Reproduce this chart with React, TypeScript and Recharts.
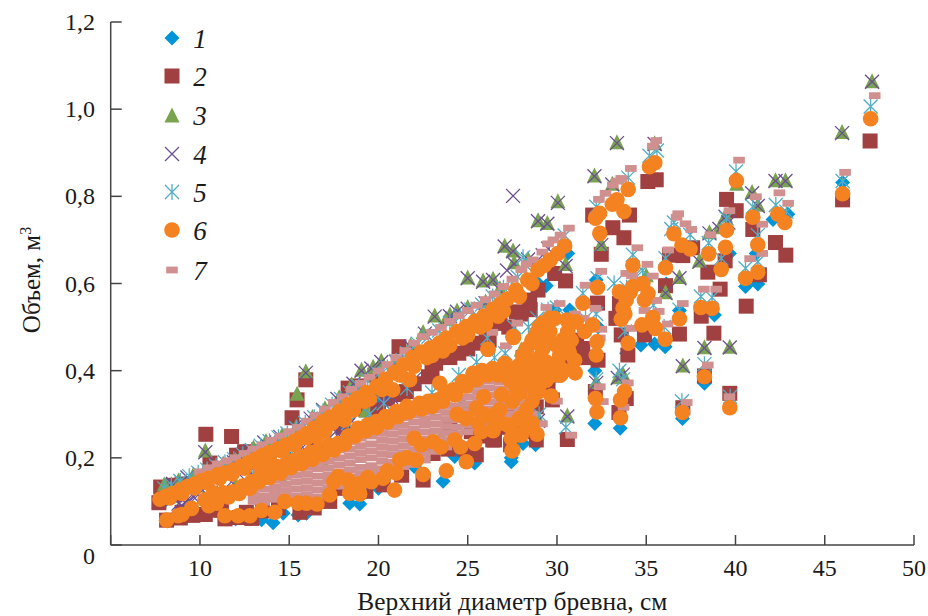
import React from "react";
import { ScatterChart, Scatter, XAxis, YAxis, Label } from "recharts";

type P = [number, number];

const xTicks = [5, 10, 15, 20, 25, 30, 35, 40, 45, 50];
const yTicks = [0, 0.2, 0.4, 0.6, 0.8, 1.0, 1.2];
const legendLabels = ["1", "2", "3", "4", "5", "6", "7"];

const series1: P[] = [[46,.832],[42.1,.747],[42.93,.759],[41.25,.599],[40.56,.593],[41.16,.669],[39.66,.669],[38.82,.528],[38.26,.371],[36.12,.599],[36.86,.538],[36.06,.455],[35.47,.461],[34.7,.459],[32.12,.4],[32.12,.279],[33.54,.268],[32.2,.608],[28.94,.6],[29.4,.595],[30.6,.669],[28.8,.23],[28.1,.233],[27.44,.2],[30.71,.539],[29.87,.539],[23.62,.146],[24.27,.203],[25.39,.188],[27.44,.191],[18.39,.096],[18.95,.094],[15.5,.069],[15.97,.073],[13.45,.058],[14.1,.051],[14.66,.073],[38.2,.53],[37.03,.29],[33.9,.44],[32.3,.5],[26.5,.25],[25,.2],[22,.18],[20,.13],[12,.06],[10,.07],[8.2,.055],[8,.1],[10,.14],[15,.2],[20,.34],[25,.48]];

const series2: P[] = [[47.54,.927],[46,.792],[39.5,.793],[40.04,.767],[40.97,.724],[42.24,.694],[42.82,.665],[35.09,.834],[35.56,.838],[32,.757],[33.13,.728],[34.06,.757],[33.75,.705],[32.48,.667],[36.3,.665],[37.05,.664],[37.6,.682],[38.45,.626],[39.42,.652],[39.14,.587],[41.34,.62],[40.6,.548],[36.08,.595],[38.08,.525],[38.79,.486],[36.86,.484],[33.97,.436],[32.27,.555],[39.68,.348],[38.26,.388],[37.05,.315],[30.58,.242],[32.15,.352],[33.88,.336],[33.47,.304],[30.48,.606],[29.87,.623],[28.47,.562],[28.94,.585],[27.72,.535],[26.79,.509],[26.04,.49],[33.5,.554],[33.6,.482],[34.9,.482],[32.3,.424],[29.74,.333],[28.84,.317],[26.5,.241],[28.84,.241],[31.45,.451],[29.9,.39],[30.2,.45],[31.1,.47],[28.1,.43],[33.3,.52],[35.3,.5],[27.5,.27],[27.2,.31],[27.8,.36],
[10.33,.254],[11.77,.249],[15.16,.292],[15.44,.333],[15.93,.379],[21.15,.455],[7.8,.133],[7.7,.097],[8.4,.137],[9,.14],[8.13,.057],[8.9,.062],[9.6,.068],[10.3,.07],[11.4,.06],[12.2,.063],[12.9,.061],[10.56,.188],[12.05,.206],[12.5,.214],[23.2,.417],[25.7,.463],[26.8,.509],[24.5,.44],[22.8,.386],[21.56,.352],[18.3,.36],[18.8,.365],[19.8,.39],[22.5,.149],[25.48,.207],[26.4,.241],[23.06,.21],[17.27,.1],[14.4,.085],[20.26,.138],[19.3,.123],[17.8,.13],[15.6,.075],[24,.27],[25.2,.26],[27.4,.23],[28.1,.26],[20,.31],[16.5,.22],[18,.27],[14,.18],
[19.3,.31],[20.5,.335],[21,.345],[22,.37],[23,.4],[24,.43],[25,.45],[26.2,.47],[27.3,.5],[28,.53],[28.5,.54],[9,.075],[11.2,.08],[12.6,.075],[13.5,.078],[16.4,.085],[18.8,.125],[21.3,.16],[23.9,.22],[24.8,.22],[26,.25],[27,.27],[28.6,.29],[29.5,.36],[30.5,.41],[31,.43],[31.7,.43],[29.3,.47],[10.8,.08],[8.6,.115]];

const series3: P[] = [[47.65,1.065],[45.97,.949],[33.36,.925],[35.47,.923],[32.1,.849],[33.1,.83],[30.05,.79],[28.94,.746],[29.46,.74],[27.07,.688],[27.54,.677],[28.38,.658],[27.6,.65],[30.48,.646],[42.24,.838],[42.8,.838],[40.93,.811],[41.25,.782],[40.07,.83],[39.44,.757],[38.54,.719],[36.86,.616],[37.98,.654],[36.08,.581],[32.48,.692],[38.26,.455],[39.68,.456],[37.05,.413],[30.58,.298],[33.69,.394],[33.41,.386],[32.2,.375],[28.94,.29],[25.86,.608],[26.42,.612],[25,.615],[35,.62],[34.3,.6],[39.1,.73],
[10.3,.218],[15.93,.4],[15.44,.348],[19.05,.403],[20.16,.424],[23.15,.528],[23.8,.52],[24.4,.539],[25,.547],[8,.14],[8.8,.15],[9.6,.16],[10.4,.172],[11.3,.188],[12,.197],[13,.225],[13.7,.24],[14.6,.253],[15.4,.273],[16.3,.295],[17,.315],[17.8,.34],[18.5,.37],[19.7,.41],[21,.425],[21.8,.46],[22.5,.49],[24,.53],[26,.56],[26.8,.59],[10.2,.11],[12,.14],[14.5,.16],[16.8,.2],[19.3,.31],[23.5,.25],[24.7,.33],[28,.45],[31,.53]];

const series4: P[] = [[27.54,.801],[47.65,1.063],[45.97,.945],[33.36,.922],[35.47,.92],[32.1,.846],[33.1,.827],[30.05,.785],[28.94,.743],[29.46,.737],[27.07,.685],[27.54,.674],[28.38,.655],[27.6,.645],[27.2,.63],[30.48,.64],[42.24,.835],[42.8,.835],[40.93,.807],[41.25,.778],[39.44,.753],[38.54,.715],[36.86,.612],[37.98,.65],[36.08,.578],[32.48,.688],[38.26,.452],[39.68,.453],[37.05,.41],[30.58,.295],[33.69,.391],[33.41,.383],[32.2,.372],[28.94,.285],[25.86,.604],[26.42,.608],[25,.612],[29.5,.68],[29.2,.665],[39.1,.725],[39.6,.74],
[10.3,.213],[15.93,.395],[19.05,.4],[20.16,.42],[23.15,.524],[24.4,.535],[25,.542],[8.5,.14],[9.3,.155],[10,.162],[11,.18],[11.9,.19],[12.8,.215],[13.6,.235],[14.5,.248],[15.3,.27],[16.2,.29],[16.9,.31],[17.7,.335],[18.6,.37],[19.6,.405],[21,.42],[21.8,.455],[22.6,.485],[24,.525],[26,.555],[26.8,.585],[9,.09],[10.4,.115],[12,.135],[14.2,.175],[15.8,.215],[17,.25],[18.5,.285],[19.5,.3],[20.5,.335],[22,.38],
[8.8,.095],[9.15,.098],[9.4,.103],[9.65,.11],[9.9,.115],[10.6,.12],[11,.128],[11.4,.13],[12.5,.15],[13,.16],[13.2,.163],[15.5,.22],[15.75,.224],[16.1,.23],[17.6,.26],[18,.265],[18.3,.275],[20.2,.33],[20.7,.34]];

const series5: P[] = [[47.57,1.006],[46,.835],[40.03,.857],[42.26,.78],[42.85,.765],[40.97,.776],[41.25,.711],[41.25,.65],[40.56,.635],[39.5,.749],[39.2,.658],[38.5,.693],[36.55,.74],[36.4,.725],[37.46,.712],[36.08,.658],[38.06,.57],[38.69,.568],[36.86,.54],[35.18,.893],[35.6,.905],[33.99,.843],[32.2,.776],[34.25,.666],[32.27,.612],[31.45,.578],[30.43,.71],[28.3,.64],[28.1,.66],[27.8,.615],[33.2,.6],[33.9,.59],[34.4,.62],[35,.6],[34.8,.63],[35.4,.55],[33.8,.49],[36,.5],[32.2,.53],[31.6,.52],[29.5,.54],[30,.545],[27.6,.5],[26.1,.475],[27.1,.44],[28.9,.52],[28.4,.5],[29,.3],[30.5,.27],[33.5,.4],[33.7,.38],[32.2,.38],[38.26,.415],[37,.33],[39.7,.34],
[8,.13],[8.4,.138],[8.9,.147],[9.4,.158],[9.9,.166],[10.4,.173],[10.9,.182],[11.4,.19],[11.9,.197],[12.4,.208],[12.9,.218],[13.4,.228],[13.9,.238],[14.4,.247],[14.9,.256],[15.4,.268],[15.9,.28],[16.4,.293],[16.9,.307],[17.4,.322],[17.9,.335],[18.4,.35],[18.9,.364],[19.4,.378],[20,.392],[20.5,.407],[21,.422],[21.6,.44],[22.2,.462],[22.8,.478],[23.4,.492],[24,.51],[24.6,.525],[25.2,.54],[25.8,.552],[26.4,.57],[27,.59],[19.5,.3],[20.3,.325],[21.6,.36],[23,.35],[24.5,.39],[25.5,.42],[26.5,.43],[13,.165],[15,.205],[17,.25],[18.3,.28]];

const series6: P[] = [[7.76,.105],[8.1,.112],[8.5,.118],[8.9,.126],[9.3,.134],[9.7,.14],[10.1,.148],[10.5,.153],[11,.161],[11.4,.165],[11.9,.172],[12.3,.18],[12.7,.188],[13.1,.196],[13.5,.205],[13.9,.212],[14.4,.221],[14.8,.229],[15.2,.236],[15.6,.245],[16,.256],[16.4,.268],[16.9,.283],[17.3,.293],[17.8,.306],[18.3,.322],[18.8,.336],[19.3,.35],[19.9,.364],[20.4,.38],[20.9,.396],[21.4,.413],[21.9,.43],[22.4,.443],[22.9,.452],[23.4,.463],[23.8,.475],[24.4,.49],[24.9,.501],[25.4,.513],[25.9,.525],[26.4,.54],[26.8,.552],[27.2,.564],[27.7,.585],[28.36,.608],[28.93,.631],[29.3,.642],[29.62,.654],[30.05,.669],[30.43,.686],
[18.1,.287],[20.8,.356],[21.75,.379],[19.5,.335],[22.7,.43],[23.6,.445],[24.7,.475],[25.7,.5],[26.7,.525],[16.5,.25],[17,.262],
[8.3,.108],[9,.118],[9.7,.131],[10.4,.143],[11.1,.153],[11.8,.163],[12.5,.176],[13.2,.188],[13.9,.203],[14.6,.216],[15.3,.23],[16,.246],[16.7,.265],[17.4,.28],[18.6,.31],[19.2,.33],[20.2,.357],[21.2,.39],[22,.41],[23,.435],[24,.458],[25,.482],[26,.507],[27,.537],[27.9,.57],[28.6,.6],
[8.13,.057],[8.78,.067],[9.53,.084],[10.28,.103],[10.74,.119],[11.3,.12],[11.86,.122],[12.4,.135],[12.89,.145],[13.4,.16],[13.82,.172],[14.3,.18],[14.85,.187],[15.3,.195],[15.78,.203],[16.2,.212],[16.71,.222],[17.2,.23],[17.74,.233],[18.3,.25],[18.86,.268],[19.4,.276],[19.89,.283],[20.4,.295],[21,.306],[21.6,.318],[22.3,.325],[22.8,.33],[23.34,.333],[23.7,.345],[24.18,.356],[24.7,.375],[25.3,.394],[25.8,.4],[26.4,.405],[27,.403],[27.53,.398],[28.1,.39],[28.6,.37],
[11,.105],[11.6,.11],[12.2,.118],[12.8,.13],[13.3,.145],[13.9,.155],[14.5,.165],[15.1,.178],[15.7,.187],[16.3,.197],[16.9,.208],[17.5,.218],[18.1,.232],[18.7,.25],[19.3,.262],[19.9,.27],[20.5,.282],[21.1,.295],[21.7,.305],[22.4,.312],[23,.318],[23.6,.33],[24.3,.345],[24.9,.365],[25.5,.38],[26.1,.39],[26.7,.39],[27.3,.385],[27.9,.375],
[9,.07],[10.5,.09],[11.4,.067],[12.14,.067],[12.8,.067],[13.45,.079],[14.19,.075],[14.75,.1],[15.5,.096],[15.97,.096],[16.56,.094],[17.27,.115],[17.74,.157],[18.3,.149],[18.39,.119],[18.95,.117],[19.6,.145],[20.26,.153],[21,.165],[20.9,.126],[22.12,.195],[22.5,.162],[23.8,.17],[23.06,.237],[24.27,.241],[24.92,.191],[25.39,.233],[26.4,.264],[25.48,.314],[26.13,.449],[23.43,.371],[27.53,.478],[27.53,.218],[27.25,.275],[26.6,.302],[10.93,.096],[21.19,.195],[21.6,.2],[22.4,.23],[20.5,.17],[22,.245],[17.5,.145],[18.9,.14],[19.4,.155],[23.5,.225],[24.6,.225],
[47.57,.978],[46,.806],[40.05,.836],[42.37,.759],[42.76,.74],[40.97,.752],[41.25,.689],[41.25,.626],[40.56,.612],[39.5,.722],[39.44,.683],[39.2,.632],[38.5,.668],[36.55,.714],[37,.688],[37.46,.679],[36.08,.636],[38.06,.545],[38.69,.543],[36.86,.519],[36.06,.472],[38.26,.386],[37.03,.304],[39.68,.315],[35.48,.877],[35.18,.868],[33.99,.816],[33.36,.792],[33.1,.782],[33.75,.765],[32.39,.761],[32.16,.75],[32.4,.715],[34.25,.642],[32.27,.591],[31.45,.555],
[34.81,.6],[34.25,.593],[33.5,.581],[35.1,.577],[34.9,.562],[33.88,.562],[33.7,.543],[33.6,.518],[34.76,.505],[35.37,.522],[35.52,.497],[33.99,.463],[34.1,.58],[33.8,.53],
[32.24,.466],[32.2,.436],[32,.505],[31.55,.49],[31.08,.512],[30.56,.516],[29.87,.52],[29.18,.509],[28.84,.486],[28.94,.463],[30.52,.478],[30.61,.451],[30.15,.436],[30.05,.42],[30.99,.424],[31.02,.395],[29.68,.342],[28.99,.352],[29.4,.378],[28.93,.417],[28.1,.436],[27.57,.476],[26.14,.449],[27.07,.417],[27.35,.378],[27.9,.348],[28.28,.31],[27.44,.275],[28,.252],[28.88,.254],[27.48,.216],[27.44,.245],[26.42,.262],[25.76,.26],[26.79,.31],[32.16,.336],[32.24,.305],[33.79,.352],[33.56,.333],[33.56,.292],[29.6,.49],[29.2,.45],[28.6,.4],[29.7,.41],[28.6,.33],[29,.37],[30.6,.49],[26.9,.345],[25.9,.34],[24.9,.29],[25.6,.28],[24.4,.3],
[28.3,.45],[28.6,.47],[29,.43],[29.4,.42],[29.9,.46],[30.3,.47],[30.8,.47],[29.3,.48],[29.8,.39],[30.2,.39],[28.5,.42],[27.8,.41],[28.2,.38],[28.9,.39],[28.7,.36],[27.5,.33],[27.7,.36],[28.6,.28],[28.3,.27],[27.9,.29],[26.9,.28],[26.4,.29],[25.9,.3],[29.4,.4],[30.4,.4],[30.7,.44],[29,.5],[29.6,.52]];

const series7: P[] = [[47.8,1.031],[46.14,.855],[40.2,.883],[42.46,.808],[42.95,.784],[41.15,.799],[41.5,.736],[41.5,.669],[40.82,.657],[39.66,.767],[38.6,.712],[38.92,.587],[38.23,.587],[37.05,.554],[36.23,.677],[36.79,.76],[36.7,.752],[37.2,.737],[37.52,.724],[35.56,.928],[35.37,.915],[34.14,.864],[33.6,.841],[33.35,.835],[33.13,.826],[32.72,.807],[32.35,.793],[34.5,.682],[32.48,.628],[31.6,.596],[30.67,.727],[30.2,.711],[29.8,.7],[29.5,.691],[29.18,.672],[28.65,.654],[35.07,.644],[35.37,.617],[33.88,.623],[34.2,.618],[35.56,.561],[35.7,.536],[36.2,.507],[34.9,.538],[34.16,.497],[32.16,.543],[30.15,.554],[29.4,.545],[32.48,.495],[32.4,.475],[32.4,.363],[32.57,.329],[33.97,.372],[33.73,.316],[37.27,.327],[39.66,.34],[38.45,.413],[29.16,.278],[30.8,.252],[27.78,.509],[26.38,.488],[27.13,.457],[31,.53],[30.6,.49],[31.5,.52],[30,.46],[29.5,.48],[28.6,.47],[30,.33],[29.5,.41],
[10,.168],[10.5,.177],[11,.186],[11.5,.193],[12,.2],[12.5,.21],[13,.22],[13.5,.23],[14,.24],[14.5,.25],[15,.26],[15.5,.27],[16,.284],[16.5,.297],[17,.312],[17.5,.327],[18,.34],[18.5,.357],[19,.371],[19.5,.385],[20,.399],[20.5,.414],[21,.43],[21.5,.446],[22,.463],[22.5,.478],[23,.488],[23.5,.499],[24,.513],[24.5,.526],[25,.538],[25.5,.55],[26,.563],[26.5,.576],[27,.593],[27.5,.61],[28,.632],[28.3,.645],
[13,.1],[13,.115],[13,.13],[13,.147],[13.6,.098],[13.6,.112],[13.6,.128],[13.6,.145],[13.6,.16],[14.2,.105],[14.2,.12],[14.2,.134],[14.2,.15],[14.2,.166],[14.8,.11],[14.8,.125],[14.8,.14],[14.8,.156],[14.8,.172],[15.4,.112],[15.4,.128],[15.4,.144],[15.4,.16],[15.4,.176],[15.4,.19],[16,.115],[16,.13],[16,.146],[16,.162],[16,.178],[16,.195],[16.6,.11],[16.6,.126],[16.6,.142],[16.6,.158],[16.6,.175],[16.6,.19],[16.6,.206],[17.2,.13],[17.2,.146],[17.2,.16],[17.2,.176],[17.2,.192],[17.2,.208],[17.8,.135],[17.8,.15],[17.8,.168],[17.8,.184],[17.8,.2],[17.8,.218],[18.4,.14],[18.4,.156],[18.4,.172],[18.4,.188],[18.4,.204],[18.4,.22],[18.4,.237],[19,.13],[19,.146],[19,.163],[19,.178],[19,.196],[19,.212],[19,.228],[19,.245],[19.6,.15],[19.6,.167],[19.6,.182],[19.6,.2],[19.6,.216],[19.6,.232],[19.6,.25],[20.2,.16],[20.2,.175],[20.2,.192],[20.2,.208],[20.2,.224],[20.2,.24],[20.2,.256],[20.2,.272],[20.8,.175],[20.8,.19],[20.8,.207],[20.8,.222],[20.8,.238],[20.8,.254],[20.8,.27],[20.8,.286],[21.4,.18],[21.4,.196],[21.4,.212],[21.4,.228],[21.4,.244],[21.4,.26],[21.4,.275],[21.4,.292],[22,.185],[22,.2],[22,.217],[22,.233],[22,.25],[22,.266],[22,.282],[22,.298],[22.6,.195],[22.6,.21],[22.6,.226],[22.6,.243],[22.6,.259],[22.6,.275],[22.6,.29],[22.6,.306],[23.2,.215],[23.2,.23],[23.2,.246],[23.2,.262],[23.2,.278],[23.2,.294],[23.2,.31],[23.8,.225],[23.8,.24],[23.8,.256],[23.8,.272],[23.8,.288],[23.8,.304],[23.8,.32],[24.4,.255],[24.4,.27],[24.4,.287],[24.4,.303],[24.4,.319],[24.4,.335],[24.4,.35],[25,.26],[25,.276],[25,.292],[25,.308],[25,.324],[25,.34],[25,.356],[25.6,.27],[25.6,.286],[25.6,.302],[25.6,.318],[25.6,.334],[25.6,.35],[25.6,.366],[26.2,.28],[26.2,.296],[26.2,.312],[26.2,.328],[26.2,.344],[26.2,.36],[26.2,.376],[26.8,.295],[26.8,.31],[26.8,.326],[26.8,.342],[26.8,.358],[26.8,.374],[27.4,.3],[27.4,.316],[27.4,.332],[27.4,.348],[27.4,.364],[27.4,.38],[28,.31],[28,.326],[28,.342],[28,.358],[28,.374],[28.6,.3],[28.6,.33],[28.6,.35],[28.6,.37]];

const C = { d: "#0095d9", s: "#a04040", t: "#7aa34f", x: "#6a4f94", a: "#55adc4", o: "#f58220", p: "#d09090" };

const toObj = (arr: P[]) => arr.map(([x, y]) => ({ x, y }));

const Diamond = ({ cx, cy }: any) => <path d={`M${cx - 7.5} ${cy}L${cx} ${cy - 7.5}L${cx + 7.5} ${cy}L${cx} ${cy + 7.5}Z`} fill={C.d} />;
const Sq = ({ cx, cy }: any) => <rect x={cx - 7.5} y={cy - 7.5} width={15} height={15} fill={C.s} />;
const Tri = ({ cx, cy }: any) => <path d={`M${cx - 7.5} ${cy + 7.5}L${cx} ${cy - 7.5}L${cx + 7.5} ${cy + 7.5}Z`} fill={C.t} />;
const Cross = ({ cx, cy }: any) => <path d={`M${cx - 7} ${cy - 7}L${cx + 7} ${cy + 7}M${cx - 7} ${cy + 7}L${cx + 7} ${cy - 7}`} stroke={C.x} strokeWidth={1.3} fill="none" />;
const Star = ({ cx, cy }: any) => <path d={`M${cx - 7} ${cy - 7}L${cx + 7} ${cy + 7}M${cx - 7} ${cy + 7}L${cx + 7} ${cy - 7}M${cx} ${cy - 8}L${cx} ${cy + 8}`} stroke={C.a} strokeWidth={1.3} fill="none" />;
const Circ = ({ cx, cy }: any) => <circle cx={cx} cy={cy} r={7.8} fill={C.o} />;
const Dash = ({ cx, cy }: any) => <rect x={cx - 5.8} y={cy - 3.4} width={11.6} height={6.8} fill={C.p} />;

const shapes = [Diamond, Sq, Tri, Cross, Star, Circ, Dash];
const legendY = [38, 76, 115, 154, 192, 230, 270];

const LegendBox = () => (
  <svg width={928} height={616} style={{ position: "absolute", left: 0, top: 0, pointerEvents: "none" }}>
    {legendLabels.map((t, i) => {
      const S = shapes[i];
      return (
        <g key={t}>
          <S cx={172} cy={legendY[i]} />
          <text x={200} y={legendY[i] + 10} textAnchor="middle" fontFamily="Liberation Serif" fontStyle="italic" fontSize={27} fill="#1a1a1a">{t}</text>
        </g>
      );
    })}
  </svg>
);

const YTick = ({ y, payload }: any) => {
  const v = payload.value;
  const s = v === 0 ? "0" : v.toFixed(1).replace(".", ",");
  return (
    <text x={95} y={v === 0 ? y + 19 : y + 8} textAnchor="end" fontFamily="Liberation Serif" fontSize={24} fill="#1a1a1a">{s}</text>
  );
};

const YTitle = () => (
  <text transform="translate(40 280) rotate(-90)" textAnchor="middle" fontFamily="Liberation Serif" fontSize={25} fill="#1a1a1a">
    Объем, м<tspan dy={-9} fontSize={16}>3</tspan>
  </text>
);

export default function App() {
  return (
    <div style={{ position: "absolute", left: 0, top: 0, width: 928, height: 616 }}>
      <ScatterChart width={928} height={616} margin={{ top: 22, right: 14, bottom: 0, left: 0 }}>
        <XAxis
          type="number"
          dataKey="x"
          domain={[5, 50]}
          ticks={xTicks}
          interval={0}
          allowDataOverflow
          height={71}
          tickSize={-10}
          tickMargin={24}
          stroke="#444"
          strokeWidth={1.5}
          tick={{ fontFamily: "Liberation Serif", fontSize: 24, fill: "#1a1a1a" }}
          tickFormatter={(v: number) => (v === 5 ? "" : String(v))}
        >
          <Label value="Верхний диаметр бревна, см" position="insideBottom" offset={0} dy={-6} style={{ fontFamily: "Liberation Serif", fontSize: 25.4, fill: "#1a1a1a" }} />
        </XAxis>
        <YAxis
          type="number"
          dataKey="y"
          domain={[0, 1.2]}
          ticks={yTicks}
          interval={0}
          allowDataOverflow
          width={110.7}
          tickSize={-11}
          stroke="#444"
          strokeWidth={1.5}
          tick={<YTick />}
        >
          <Label content={<YTitle />} />
        </YAxis>
        <Scatter name="1" data={toObj(series1)} shape={<Diamond />} isAnimationActive={false} />
        <Scatter name="2" data={toObj(series2)} shape={<Sq />} isAnimationActive={false} />
        <Scatter name="3" data={toObj(series3)} shape={<Tri />} isAnimationActive={false} />
        <Scatter name="4" data={toObj(series4)} shape={<Cross />} isAnimationActive={false} />
        <Scatter name="5" data={toObj(series5)} shape={<Star />} isAnimationActive={false} />
        <Scatter name="7" data={toObj(series7)} shape={<Dash />} isAnimationActive={false} />
        <Scatter name="6" data={toObj(series6)} shape={<Circ />} isAnimationActive={false} />
      </ScatterChart>
      <LegendBox />
    </div>
  );
}
